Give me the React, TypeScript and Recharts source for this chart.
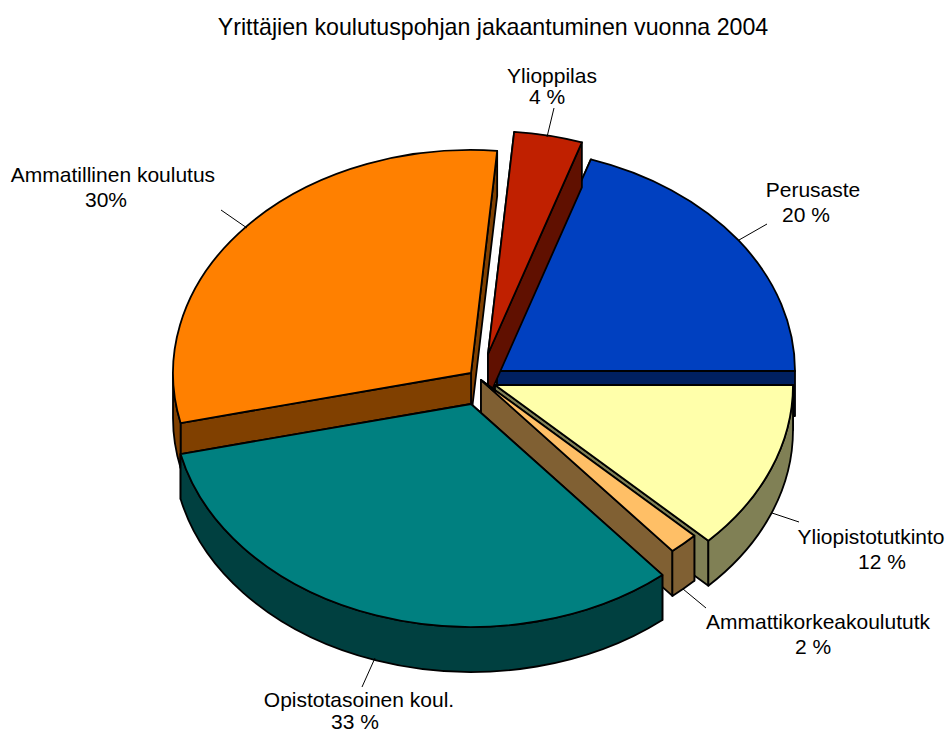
import React from "react";
import { PieChart, Pie } from "recharts";

const categories = [
  "Perusaste",
  "Ylioppilas",
  "Ammatillinen koulutus",
  "Opistotasoinen koul.",
  "Ammattikorkeakoulututk",
  "Yliopistotutkinto",
];
const shares = [19.9, 3.7, 30, 32.5, 1.6, 12.3];
const shareLabels = ["20 %", "4 %", "30%", "33 %", "2 %", "12 %"];

const topColors = ["#0040C0", "#C02000", "#FF8000", "#008080", "#FFBF66", "#FFFFAA"];
const sideColors = ["#002060", "#601000", "#804000", "#004040", "#806033", "#808055"];

const CX = 480;
const CY = 380;
const RX = 298;
const RY = 223;
const DEPTH = 45;
const FONT = "'Liberation Sans', Arial, sans-serif";

// how far each slice is pulled out of the pie
const explode = [
  [17, -9],
  [8, -26],
  [-9, -7],
  [-9, 24],
  [1, 0],
  [15, 5],
];

// painter's order: back slices first, the teal one goes over the small slice's wall
const layers = [[0, 1, 2, 5], [4], [3]];

// [nameX, nameY, valueX, valueY, line x1, y1, x2, y2]
const labelLayout = [
  [813, 197, 806, 222, 739, 240, 767, 224],
  [552, 83, 547, 104, 554, 108, 547, 137],
  [113, 182, 106, 207, 221, 210, 247, 228],
  [359, 707, 355, 728.5, 375, 658, 362, 687],
  [818, 629, 813, 654, 683, 589, 706, 608],
  [871, 544, 882, 569, 772, 513, 799, 522],
];

const data = categories.map((name, i) => ({
  name,
  value: shares[i],
  fill: topColors[i],
}));

const rad = (a: number) => (a * Math.PI) / 180;

const Slice3D = (props: any) => {
  const { startAngle, endAngle, index, fill } = props;
  const [dx, dy] = explode[index];
  const x0 = CX + dx;
  const y0 = CY + dy;
  const pt = (a: number, d = 0) =>
    `${x0 + RX * Math.cos(rad(a))},${y0 - RY * Math.sin(rad(a)) + d}`;
  const arc = (from: number, to: number, d = 0) => {
    const sweep = to > from ? 0 : 1;
    const large = Math.abs(to - from) > 180 ? 1 : 0;
    return `A${RX},${RY} 0 ${large} ${sweep} ${pt(to, d)}`;
  };
  const wall = (a: number) =>
    `M${x0},${y0} L${pt(a)} L${pt(a, DEPTH)} L${x0},${y0 + DEPTH} Z`;

  const walls: { d: string; visible: boolean }[] = [
    { d: wall(startAngle), visible: Math.cos(rad(startAngle)) > 0 },
    { d: wall(endAngle), visible: Math.cos(rad(endAngle)) < 0 },
  ];
  walls.sort((a, b) => Number(a.visible) - Number(b.visible));

  const lowFrom = Math.max(startAngle, 180);
  const lowTo = Math.min(endAngle, 360);
  const side = sideColors[index];
  const common = { stroke: "#000", strokeWidth: 1.8, strokeLinejoin: "round" as const };

  return (
    <g>
      {walls.map((w, i) => (
        <path key={i} d={w.d} fill={side} {...common} />
      ))}
      {lowTo > lowFrom && (
        <path
          d={`M${pt(lowFrom)} ${arc(lowFrom, lowTo)} L${pt(lowTo, DEPTH)} ${arc(lowTo, lowFrom, DEPTH)} Z`}
          fill={side}
          {...common}
        />
      )}
      <path
        d={`M${x0},${y0} L${pt(startAngle)} ${arc(startAngle, endAngle)} Z`}
        fill={fill}
        {...common}
      />
    </g>
  );
};

const SliceLabel = (props: any) => {
  const i = props.index;
  const [nx, ny, vx, vy, x1, y1, x2, y2] = labelLayout[i];
  const textStyle = { fontFamily: FONT, fontSize: 21, fill: "#000" };
  return (
    <g>
      <line x1={x1} y1={y1} x2={x2} y2={y2} stroke="#000" strokeWidth={1} />
      <text x={nx} y={ny} textAnchor="middle" {...textStyle}>
        {categories[i]}
      </text>
      <text x={vx} y={vy} textAnchor="middle" {...textStyle}>
        {shareLabels[i]}
      </text>
    </g>
  );
};

export default function App() {
  return (
    <div style={{ position: "absolute", left: 0, top: 0, background: "#fff" }}>
      <PieChart width={947} height={733} margin={{ top: 0, right: 0, bottom: 0, left: 0 }}>
        <text
          x={493}
          y={35}
          textAnchor="middle"
          style={{ fontFamily: FONT, fontSize: 23.2, fill: "#000" }}
        >
          Yrittäjien koulutuspohjan jakaantuminen vuonna 2004
        </text>
        {layers.map((layer, l) => (
          <Pie
            key={l}
            data={data}
            dataKey="value"
            nameKey="name"
            cx={CX}
            cy={CY}
            innerRadius={0}
            outerRadius={RX}
            startAngle={0}
            endAngle={360}
            paddingAngle={0}
            shape={(props: any) =>
              layer.includes(props.index) ? <Slice3D {...props} /> : <g />
            }
            label={l === layers.length - 1 ? SliceLabel : false}
            labelLine={false}
            isAnimationActive={false}
          />
        ))}
      </PieChart>
    </div>
  );
}
